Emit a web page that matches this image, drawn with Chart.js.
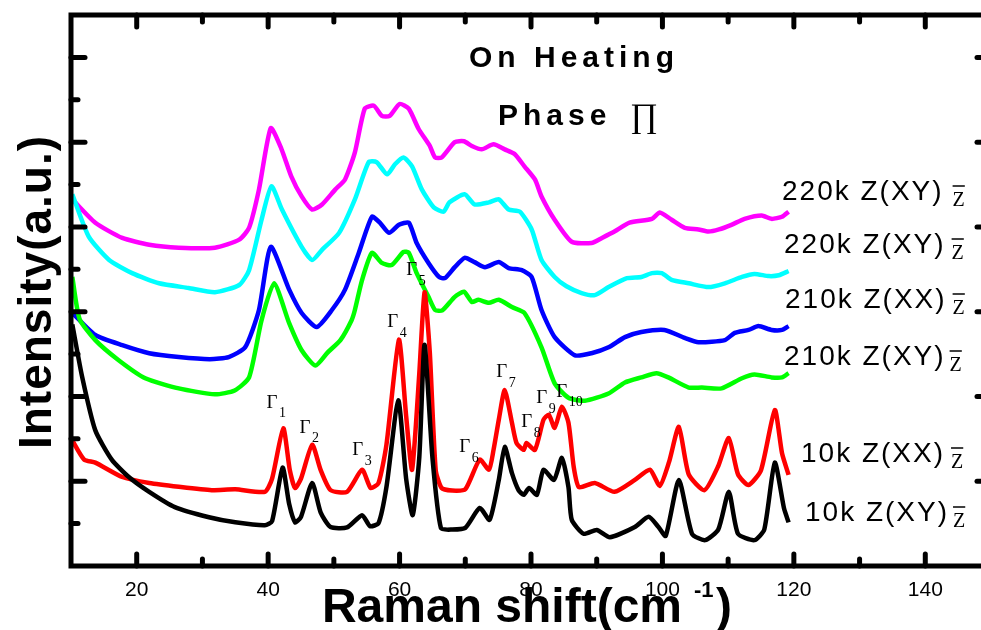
<!DOCTYPE html>
<html>
<head>
<meta charset="utf-8">
<script src="https://cdn.jsdelivr.net/npm/chart.js@4.4.1/dist/chart.umd.min.js"></script>
<style>
html, body { margin: 0; padding: 0; background: #fff; overflow: hidden; }
canvas { display: block; }
</style>
</head>
<body>
<canvas id="ramanChart" width="995" height="630"></canvas>
<script>
// Raman spectra, on heating (arbitrary intensity units)
const black10kXY_x = [10.2, 11.7, 13.7, 16.2, 18.8, 21.9, 25.8, 31.0, 35.0, 39.5, 40.6, 42.2, 43.2, 44.1, 45.0, 46.7, 48.0, 49.5, 52.0, 54.3, 55.5, 56.8, 58.0, 59.8, 61.0, 62.0, 63.0, 63.8, 65.0, 66.3, 68.0, 70.0, 72.2, 73.7, 75.1, 76.0, 77.1, 78.1, 78.9, 79.7, 80.9, 81.9, 83.5, 84.7, 85.7, 86.2, 88.0, 90.0, 92.0, 95.8, 97.9, 99.4, 100.5, 102.5, 104.5, 106.5, 108.5, 110.1, 111.5, 114.0, 115.5, 117.1, 118.5, 119.2];
const black10kXY_y = [5.70, 4.46, 3.20, 2.51, 2.10, 1.75, 1.39, 1.15, 1.03, 0.96, 1.06, 2.32, 1.46, 1.03, 1.16, 1.96, 1.26, 0.92, 0.91, 1.20, 0.94, 1.01, 1.86, 3.91, 2.06, 1.20, 2.56, 5.22, 2.56, 0.89, 0.86, 0.90, 1.37, 1.09, 2.03, 2.81, 2.19, 1.79, 1.68, 1.84, 1.68, 2.27, 2.03, 2.55, 1.86, 1.09, 0.76, 0.85, 0.68, 0.92, 1.16, 0.92, 0.71, 2.03, 0.76, 0.61, 0.86, 1.75, 0.76, 0.61, 0.86, 2.44, 1.36, 1.03];

const red10kXX_x = [10.2, 12.0, 13.7, 17.8, 21.9, 26.4, 31.4, 35.0, 39.5, 40.6, 42.3, 43.3, 44.1, 45.0, 46.7, 48.0, 49.5, 52.0, 54.3, 55.6, 56.8, 58.0, 59.9, 61.0, 61.9, 63.0, 63.8, 64.6, 65.5, 66.4, 68.0, 70.0, 72.2, 73.6, 74.3, 75.1, 76.0, 77.1, 77.8, 78.9, 79.3, 80.6, 81.9, 82.7, 83.6, 84.7, 85.7, 86.5, 87.3, 89.7, 92.7, 95.8, 98.1, 99.6, 101.0, 102.5, 104.0, 106.4, 108.5, 110.1, 111.5, 113.1, 115.0, 117.1, 118.2, 119.2];
const red10kXX_y = [2.96, 2.51, 2.44, 2.10, 1.96, 1.87, 1.79, 1.81, 1.75, 2.06, 3.25, 2.26, 1.84, 2.06, 2.86, 2.26, 1.79, 1.75, 2.27, 1.84, 1.96, 2.86, 5.34, 3.54, 2.27, 4.54, 6.46, 5.04, 2.26, 1.84, 1.78, 1.81, 2.51, 2.27, 2.74, 3.45, 4.15, 3.38, 2.90, 2.74, 2.90, 2.74, 3.45, 3.57, 3.26, 3.76, 3.38, 2.34, 1.86, 1.96, 1.75, 2.03, 2.27, 1.89, 2.45, 3.28, 2.16, 1.79, 2.36, 3.02, 2.16, 1.91, 2.26, 3.68, 2.66, 2.15];

const green210kXY_x = [10.2, 11.3, 13.7, 17.3, 21.3, 26.4, 31.9, 34.9, 37.1, 39.0, 40.9, 43.2, 45.1, 47.2, 49.0, 51.0, 52.7, 53.2, 54.3, 55.8, 57.3, 58.8, 60.6, 61.4, 62.6, 64.4, 65.4, 66.5, 68.4, 69.8, 71.0, 72.0, 73.6, 75.1, 77.1, 79.0, 81.6, 83.6, 85.7, 88.2, 91.8, 94.3, 96.8, 99.1, 100.9, 104.0, 106.0, 109.0, 112.1, 114.0, 116.6, 118.2, 119.2];
const green210kXY_y = [6.82, 5.83, 5.33, 4.85, 4.43, 4.19, 4.05, 4.14, 4.45, 5.80, 6.67, 5.73, 5.09, 4.73, 5.03, 5.33, 5.80, 6.04, 6.75, 7.39, 7.15, 7.10, 7.41, 7.39, 6.91, 6.35, 6.04, 6.03, 6.35, 6.47, 6.23, 6.28, 6.21, 6.28, 6.11, 5.97, 5.16, 4.31, 3.97, 3.90, 4.07, 4.33, 4.45, 4.55, 4.45, 4.21, 4.21, 4.19, 4.43, 4.52, 4.45, 4.45, 4.55];

const blue210kXX_x = [10.2, 13.7, 17.8, 21.9, 26.4, 31.1, 34.0, 36.5, 38.6, 40.4, 43.2, 45.1, 47.4, 49.7, 51.7, 53.8, 55.8, 57.0, 58.4, 59.9, 61.4, 62.6, 64.4, 66.0, 66.9, 68.4, 69.9, 71.4, 73.0, 75.1, 76.6, 78.6, 80.1, 81.6, 83.6, 86.7, 89.2, 91.8, 94.3, 96.8, 100.3, 103.4, 105.5, 109.5, 111.0, 113.1, 114.6, 116.6, 118.2, 119.2];
const blue210kXX_y = [5.97, 5.45, 5.21, 5.02, 4.93, 4.88, 4.93, 5.16, 6.04, 7.53, 6.52, 5.97, 5.64, 6.04, 6.52, 7.39, 8.24, 8.10, 7.86, 8.05, 8.10, 7.62, 7.15, 6.82, 6.79, 7.05, 7.27, 7.17, 7.05, 7.17, 7.03, 6.98, 6.82, 6.04, 5.40, 4.97, 5.02, 5.16, 5.40, 5.52, 5.57, 5.38, 5.28, 5.33, 5.50, 5.57, 5.66, 5.57, 5.57, 5.66];

const cyan220kXY_x = [10.2, 12.7, 15.8, 19.3, 23.4, 27.9, 31.9, 35.6, 37.1, 39.0, 40.5, 42.1, 45.1, 46.7, 48.2, 50.8, 53.2, 55.3, 56.5, 58.1, 59.3, 60.6, 61.9, 63.4, 65.2, 66.7, 67.6, 69.9, 71.4, 73.6, 75.1, 76.6, 78.3, 80.1, 81.6, 83.6, 85.4, 87.7, 89.7, 91.8, 94.6, 96.8, 98.4, 99.9, 101.4, 104.0, 107.0, 109.5, 112.1, 114.0, 116.2, 117.7, 119.2];
const cyan220kXY_y = [8.77, 7.77, 7.22, 6.91, 6.67, 6.56, 6.46, 6.63, 6.98, 8.17, 8.96, 8.41, 7.53, 7.22, 7.46, 7.86, 8.65, 9.53, 9.53, 9.24, 9.48, 9.64, 9.43, 8.88, 8.46, 8.36, 8.58, 8.77, 8.53, 8.58, 8.65, 8.41, 8.36, 7.94, 7.22, 6.82, 6.60, 6.44, 6.39, 6.58, 6.79, 6.82, 6.91, 6.91, 6.75, 6.67, 6.58, 6.67, 6.82, 6.89, 6.84, 6.86, 6.96];

const magenta220kXY_x = [10.2, 13.7, 17.8, 21.9, 26.4, 31.9, 35.6, 37.1, 38.6, 40.4, 42.0, 43.5, 45.1, 46.7, 48.2, 50.2, 51.7, 53.2, 54.7, 56.1, 57.3, 58.5, 60.0, 61.4, 62.9, 64.6, 65.4, 66.4, 68.4, 69.8, 71.0, 72.5, 74.3, 76.0, 77.5, 79.0, 80.6, 81.6, 83.6, 86.2, 89.2, 90.8, 92.7, 95.0, 98.4, 99.6, 101.4, 103.4, 105.5, 107.0, 108.6, 110.5, 112.5, 115.1, 116.6, 118.2, 119.2];
const magenta220kXY_y = [8.65, 8.10, 7.74, 7.58, 7.51, 7.51, 7.70, 7.98, 8.88, 10.33, 9.85, 9.20, 8.72, 8.41, 8.53, 8.88, 9.12, 9.76, 10.79, 10.86, 10.62, 10.62, 10.90, 10.79, 10.31, 9.91, 9.64, 9.64, 10.00, 10.02, 9.91, 9.83, 9.95, 9.83, 9.72, 9.43, 9.12, 8.72, 8.17, 7.65, 7.62, 7.74, 7.89, 8.10, 8.19, 8.34, 8.17, 7.98, 7.94, 7.89, 7.94, 8.05, 8.19, 8.27, 8.19, 8.24, 8.36];

// axis ticks
const xTickValues = [20, 30, 40, 50, 60, 70, 80, 90, 100, 110, 120, 130, 140];
const yTickValues = [1, 2, 3, 4, 5, 6, 7, 8, 9, 10, 11, 12];

// mode labels (Gamma_n), placed in data coordinates near the peaks
const gammaNames = ['1', '2', '3', '4', '5', '6', '7', '8', '9', '10'];
const gammaX = [40.57, 45.59, 53.65, 58.97, 61.86, 69.92, 75.55, 79.35, 81.63, 84.68];
const gammaY = [3.85, 3.26, 2.74, 5.76, 6.98, 2.81, 4.58, 3.40, 3.96, 4.11];

// curve labels on the right
const seriesLabels = ['220k Z(XY)', '220k Z(XY)', '210k Z(XX)', '210k Z(XY)', '10k Z(XX)', '10k Z(XY)'];
const labelLeft = [782, 784, 785, 784, 801, 805];
const labelBase = [200, 253, 308, 365, 462, 521];
const labelZGap = [9, 6, 6, 4, 6, 4];

function pts(xs, ys) {
    return xs.map((x, i) => ({ x: x, y: ys[i] }));
}

function lineSet(label, color, xs, ys) {
    return {
        label: label,
        data: pts(xs, ys),
        borderColor: color,
        borderWidth: 4.5,
        pointRadius: 0,
        tension: 0.2,
        fill: false
    };
}

const SANS = '"Liberation Sans", Arial, sans-serif';
const SERIF = '"Liberation Serif", "Times New Roman", serif';

const framePlugin = {
    id: 'framePlugin',
    afterDraw(chart) {
        const ctx = chart.ctx;
        const a = chart.chartArea;
        const xs = chart.scales.x;
        const ys = chart.scales.y;

        ctx.save();
        ctx.strokeStyle = '#000';
        ctx.fillStyle = '#000';

        // inward ticks on all four sides
        ctx.lineWidth = 5;
        ctx.lineCap = 'round';
        function seg(x1, y1, x2, y2) {
            ctx.beginPath();
            ctx.moveTo(x1, y1);
            ctx.lineTo(x2, y2);
            ctx.stroke();
        }
        xTickValues.forEach(v => {
            const px = xs.getPixelForValue(v);
            const len = v % 20 === 0 ? 12 : 7;
            seg(px, a.bottom, px, a.bottom - len);
            seg(px, a.top, px, a.top + len);
        });
        yTickValues.forEach(v => {
            const py = ys.getPixelForValue(v);
            const len = v % 2 === 0 ? 14 : 7;
            seg(a.left, py, a.left + len, py);
            seg(a.right, py, a.right - len, py);
        });

        // frame
        ctx.lineCap = 'square';
        ctx.strokeRect(a.left, a.top, a.right - a.left, a.bottom - a.top);

        // Gamma labels
        ctx.textBaseline = 'middle';
        gammaNames.forEach((n, i) => {
            const gx = xs.getPixelForValue(gammaX[i]);
            const gy = ys.getPixelForValue(gammaY[i]);
            ctx.font = '19px ' + SERIF;
            ctx.textAlign = 'center';
            ctx.fillText('\u0393', gx, gy);
            ctx.font = '14px ' + SERIF;
            ctx.textAlign = 'left';
            ctx.fillText(n, gx + 7, gy + 11);
        });

        // curve labels
        ctx.textBaseline = 'alphabetic';
        seriesLabels.forEach((t, i) => {
            ctx.font = '28px ' + SANS;
            ctx.letterSpacing = '2px';
            ctx.textAlign = 'left';
            ctx.fillText(t, labelLeft[i], labelBase[i]);
            const w = ctx.measureText(t).width;
            ctx.letterSpacing = '0px';
            const zx = labelLeft[i] + w + labelZGap[i];
            const zb = labelBase[i] + 6;
            ctx.font = '20px ' + SERIF;
            ctx.fillText('Z', zx, zb);
            const zw = ctx.measureText('Z').width;
            ctx.lineWidth = 1.5;
            ctx.lineCap = 'butt';
            seg(zx, zb - 20, zx + zw, zb - 20);
        });

        // title
        ctx.font = 'bold 30px ' + SANS;
        ctx.letterSpacing = '5px';
        ctx.fillText('On Heating', 469, 67);
        ctx.fillText('Phase', 498, 125);
        ctx.letterSpacing = '0px';
        ctx.font = '34px ' + SERIF;
        ctx.fillText('\u220F', 630, 127);

        // x axis title
        ctx.font = 'bold 48px ' + SANS;
        ctx.textAlign = 'right';
        ctx.fillText('Raman shift(cm', 682, 622);
        ctx.textAlign = 'left';
        ctx.font = 'bold 22px ' + SANS;
        ctx.fillText('-1', 694, 597);
        ctx.font = 'bold 48px ' + SANS;
        ctx.fillText(')', 716, 622);

        // y axis title
        ctx.translate(38, 292);
        ctx.rotate(-Math.PI / 2);
        ctx.font = 'bold 46px ' + SANS;
        ctx.textAlign = 'center';
        ctx.textBaseline = 'middle';
        ctx.letterSpacing = '1px';
        ctx.fillText('Intensity(a.u.)', 0, 0);
        ctx.restore();
    }
};

new Chart(document.getElementById('ramanChart'), {
    type: 'line',
    data: {
        datasets: [
            lineSet('10k Z(XY)', '#000000', black10kXY_x, black10kXY_y),
            lineSet('10k Z(XX)', '#ff0000', red10kXX_x, red10kXX_y),
            lineSet('210k Z(XY)', '#00ff00', green210kXY_x, green210kXY_y),
            lineSet('210k Z(XX)', '#0000ff', blue210kXX_x, blue210kXX_y),
            lineSet('220k Z(XY)', '#00ffff', cyan220kXY_x, cyan220kXY_y),
            lineSet('220k Z(XY)', '#ff00ff', magenta220kXY_x, magenta220kXY_y)
        ]
    },
    options: {
        responsive: false,
        animation: false,
        devicePixelRatio: 1,
        layout: { padding: { top: 15, right: 4, left: 0, bottom: 0 } },
        plugins: {
            legend: { display: false },
            tooltip: { enabled: false }
        },
        scales: {
            x: {
                type: 'linear',
                min: 10,
                max: 150,
                grid: { display: false },
                border: { display: false },
                ticks: {
                    stepSize: 10,
                    autoSkip: false,
                    maxRotation: 0,
                    padding: 4,
                    color: '#000',
                    font: { family: SANS, size: 21 },
                    callback: v => (v % 20 === 0 ? v : '')
                },
                afterFit: s => { s.height = 64; }
            },
            y: {
                min: 0,
                max: 13,
                grid: { display: false },
                border: { display: false },
                ticks: { display: false, stepSize: 1 },
                afterFit: s => { s.width = 71; }
            }
        }
    },
    plugins: [framePlugin]
});
</script>
</body>
</html>
